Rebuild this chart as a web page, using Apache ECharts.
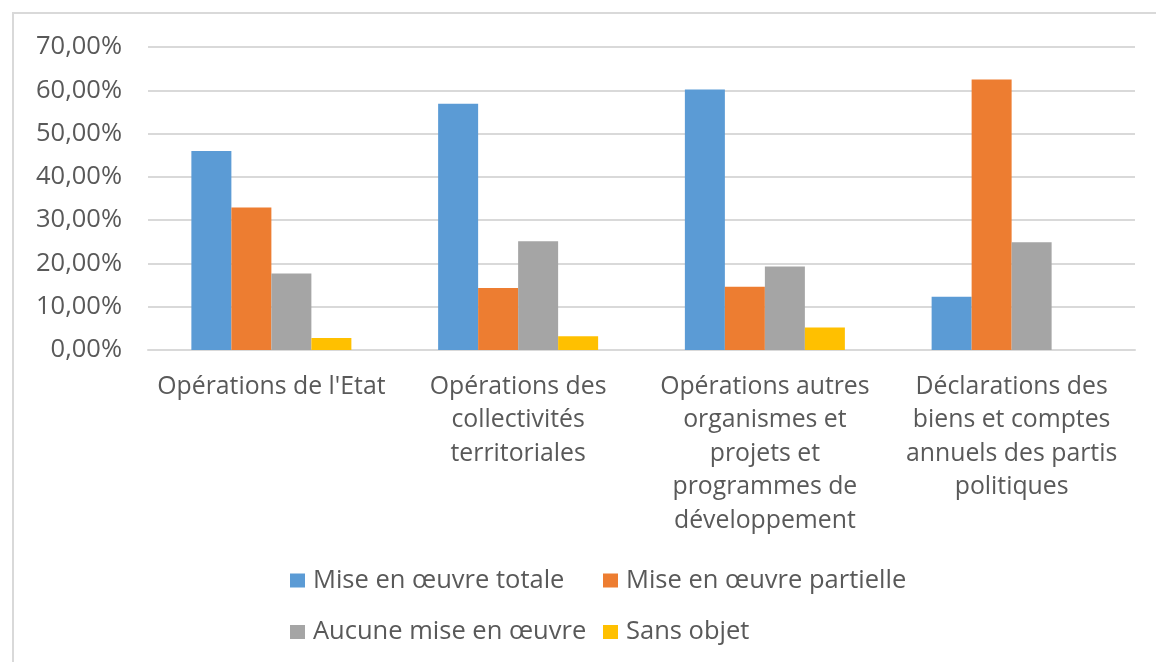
<!DOCTYPE html>
<html>
<head>
<meta charset="utf-8">
<script src="https://cdn.jsdelivr.net/npm/echarts@6/dist/echarts.min.js"></script>
<style>
html,body{margin:0;padding:0;background:#fff;}
#chart{width:1156px;height:662px;}
</style>
</head>
<body>
<div id="chart"></div>
<script>
var categories = [
  "Opérations de l'Etat",
  "Opérations des\ncollectivités\nterritoriales",
  "Opérations autres\norganismes et\nprojets et\nprogrammes de\ndéveloppement",
  "Déclarations des\nbiens et comptes\nannuels des partis\npolitiques"
];
var seriesNames = ["Mise en œuvre totale", "Mise en œuvre partielle", "Aucune mise en œuvre", "Sans objet"];
var totale = [46.0, 56.9, 60.2, 12.3];
var partielle = [32.9, 14.3, 14.6, 62.5];
var aucune = [17.7, 25.1, 19.3, 24.9];
var sansObjet = [2.8, 3.2, 5.2, 0];
var colors = ["#5B9BD5", "#ED7D31", "#A5A5A5", "#FFC000"];

var FONT = "Open Sans";
var TXT = "#595959";
var chart = echarts.init(document.getElementById('chart'));

function mkLegend(name, left, top) {
  return {
    data: [name], left: left, top: top, orient: 'horizontal', padding: 0,
    itemWidth: 15, itemHeight: 14, itemGap: 0, icon: 'rect',
    textStyle: {fontFamily: FONT, fontSize: 25.5, color: TXT, lineHeight: 30, padding: [0, 0, 0, 3]},
    selectedMode: false
  };
}
function mkSeries(i, data) {
  return {
    name: seriesNames[i], type: 'bar', data: data, barWidth: 40, barGap: '0%',
    itemStyle: {color: colors[i]}
  };
}

chart.setOption({
  animation: false,
  textStyle: {fontFamily: FONT},
  graphic: [{
    type: 'rect', silent: true,
    shape: {x: 13, y: 13, width: 1300, height: 800},
    style: {fill: 'none', stroke: '#D9D9D9', lineWidth: 2}
  }],
  grid: {left: 148, right: 21, top: 47, bottom: 312, containLabel: false},
  xAxis: {
    type: 'category', data: categories,
    axisLine: {lineStyle: {color: '#D9D9D9', width: 2}},
    axisTick: {show: false},
    axisLabel: {fontFamily: FONT, fontSize: 24.8, color: TXT, lineHeight: 33.5, margin: 20, interval: 0, verticalAlign: 'top'}
  },
  yAxis: {
    type: 'value', min: 0, max: 70, interval: 10,
    axisLine: {show: false}, axisTick: {show: false},
    splitLine: {lineStyle: {color: '#D9D9D9', width: 2}},
    axisLabel: {
      fontFamily: FONT, fontSize: 25.5, color: TXT, margin: 26,
      formatter: function (v) { return v.toFixed(2).replace('.', ',') + '%'; }
    }
  },
  legend: [
    mkLegend(seriesNames[0], 290, 565.5),
    mkLegend(seriesNames[1], 603, 565.5),
    mkLegend(seriesNames[2], 290, 617),
    mkLegend(seriesNames[3], 603, 617)
  ],
  series: [
    mkSeries(0, totale),
    mkSeries(1, partielle),
    mkSeries(2, aucune),
    mkSeries(3, sansObjet)
  ]
});
</script>
</body>
</html>
